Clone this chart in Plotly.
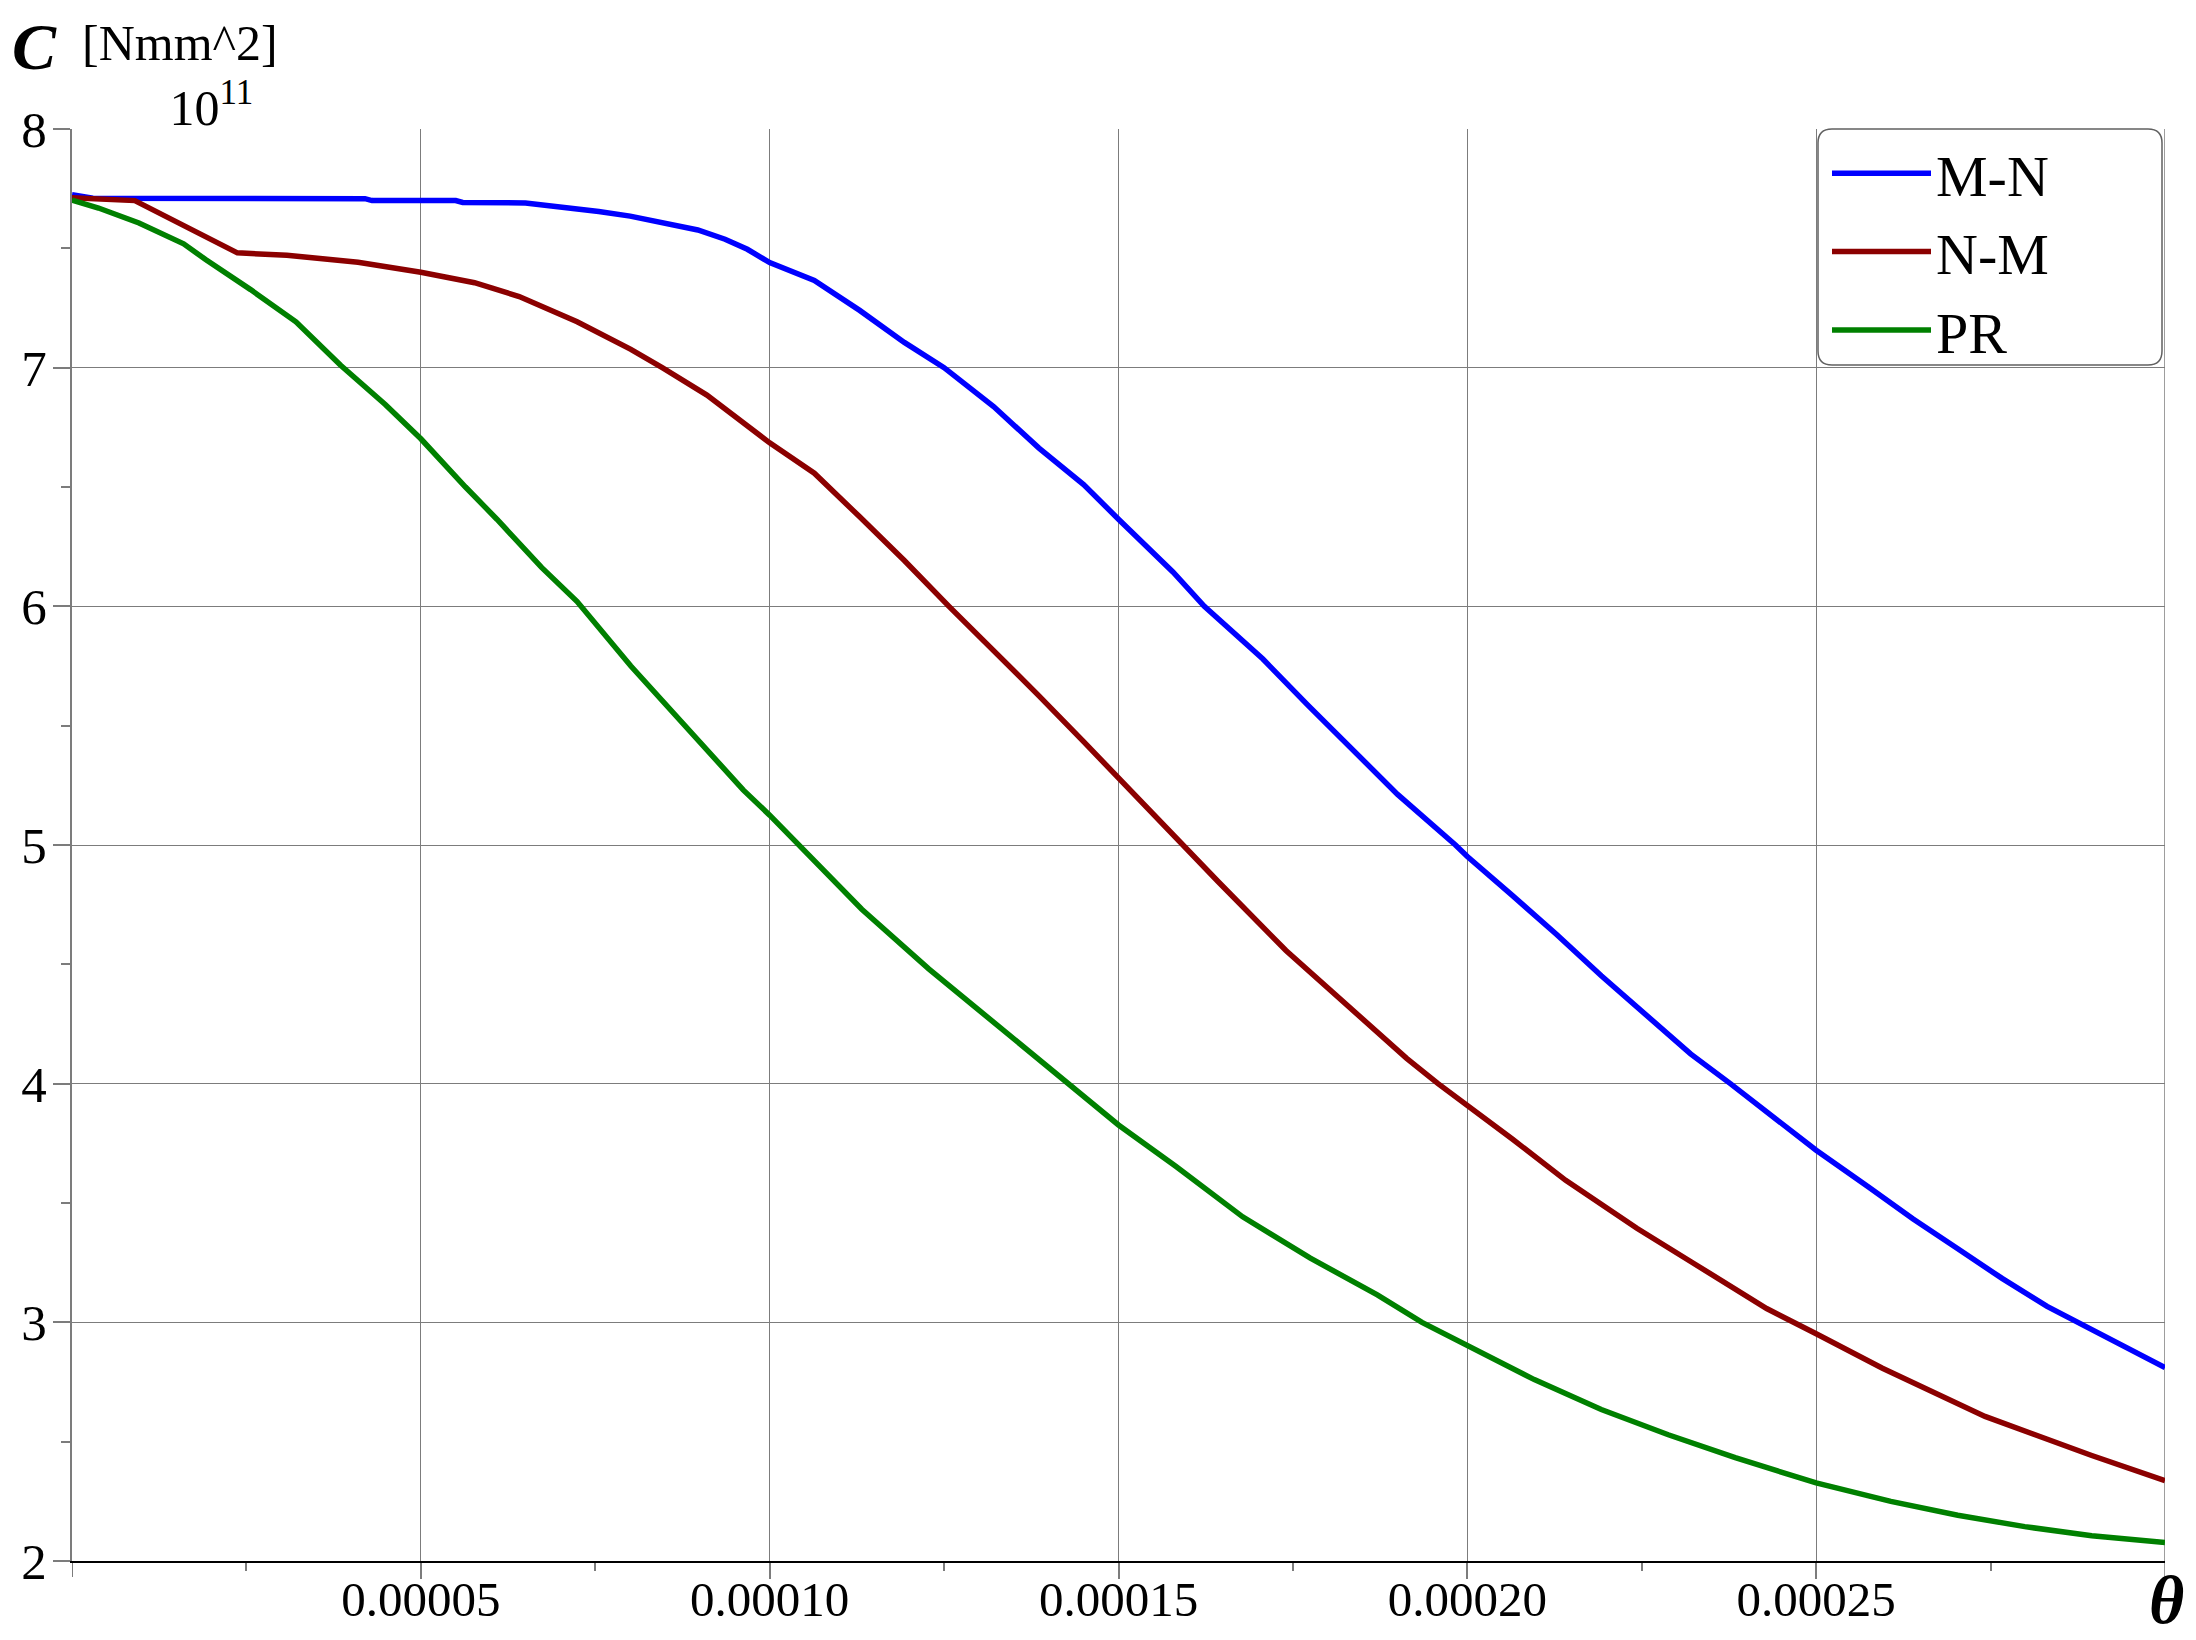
import plotly.graph_objects as go

# ---------------- data (C in units of 1e11 Nmm^2) ----------------
theta_mn = [0, 0.000003, 0.000042, 0.000043, 0.000055, 0.000056, 0.000065, 0.0000705,
            0.0000755, 0.00008, 0.0000853, 0.0000897, 0.0000936, 0.0000968, 0.0001,
            0.0001064, 0.0001129, 0.0001193, 0.000125, 0.0001321, 0.0001386, 0.000145,
            0.00015, 0.0001578, 0.0001623, 0.0001707, 0.0001771, 0.0001835, 0.00019,
            0.0001983, 0.0002, 0.0002064, 0.0002128, 0.0002192, 0.0002256, 0.000232, 0.0002377,
            0.0002448, 0.00025, 0.0002575, 0.0002639, 0.0002703, 0.0002767, 0.0002831,
            0.0002876, 0.0002927, 0.0003]
c_mn = [7.725, 7.71, 7.708, 7.70, 7.70, 7.692, 7.69, 7.673, 7.654, 7.635, 7.606, 7.577,
        7.538, 7.496, 7.44, 7.365, 7.24, 7.106, 7.0, 6.837, 6.663, 6.51, 6.365, 6.144,
        6.0, 5.779, 5.587, 5.404, 5.212, 5.0, 4.952, 4.79, 4.625, 4.452, 4.288, 4.125, 4.0,
        3.837, 3.721, 3.567, 3.433, 3.308, 3.183, 3.067, 3.0, 2.923, 2.81]

theta_nm = [0, 0.000009, 0.0000237, 0.0000308, 0.000041, 0.00005, 0.0000577, 0.0000641,
            0.0000724, 0.0000801, 0.0000846, 0.000091, 0.0001, 0.0001064, 0.0001129,
            0.0001193, 0.0001257, 0.0001321, 0.0001386, 0.000145, 0.00015, 0.0001553,
            0.0001594, 0.0001643, 0.000174, 0.0001836, 0.0001913, 0.0001958, 0.0002,
            0.0002064, 0.0002141, 0.0002243, 0.000232, 0.0002429, 0.00025, 0.0002595,
            0.0002742, 0.0002895, 0.0003]
c_nm = [7.712, 7.70, 7.481, 7.471, 7.442, 7.40, 7.356, 7.298, 7.192, 7.077, 7.0, 6.885,
        6.685, 6.558, 6.375, 6.192, 6.0, 5.817, 5.625, 5.433, 5.279, 5.115, 4.99, 4.846,
        4.558, 4.308, 4.106, 4.0, 3.91, 3.769, 3.595, 3.394, 3.255, 3.058, 2.952, 2.808,
        2.606, 2.442, 2.337]

theta_pr = [0, 0.0000038, 0.0000096, 0.000016, 0.0000192, 0.0000256, 0.0000321, 0.0000385,
            0.0000449, 0.00005, 0.0000564, 0.0000609, 0.0000673, 0.0000724, 0.0000801,
            0.0000878, 0.0000962, 0.0001, 0.0001042, 0.0001132, 0.0001228, 0.0001325,
            0.0001427, 0.00015, 0.0001582, 0.0001678, 0.0001775, 0.0001871, 0.0001935,
            0.0002, 0.0002096, 0.0002192, 0.0002288, 0.0002384, 0.00025, 0.0002607,
            0.0002703, 0.0002799, 0.0002895, 0.0003]
c_pr = [7.702, 7.669, 7.606, 7.519, 7.452, 7.327, 7.192, 7.01, 6.846, 6.702, 6.5, 6.365,
        6.163, 6.02, 5.75, 5.5, 5.231, 5.125, 5.0, 4.731, 4.481, 4.25, 4.0, 3.827, 3.654,
        3.442, 3.269, 3.115, 3.0, 2.904, 2.76, 2.635, 2.529, 2.433, 2.327, 2.25, 2.192,
        2.144, 2.106, 2.077]

series_names = ["M-N", "N-M", "PR"]
x_range = [0, 0.0003]
x_tickvals = [0.00005, 0.0001, 0.00015, 0.0002, 0.00025]
x_ticktext = ["0.00005", "0.00010", "0.00015", "0.00020", "0.00025"]
x_minor = [0.000025, 0.000075, 0.000125, 0.000175, 0.000225, 0.000275]
y_range = [2, 8]
y_tickvals = [2, 3, 4, 5, 6, 7, 8]

# ---------------- layout geometry ----------------
# the page body has an 8px margin, so the figure starts at (8, 8) in the window
OFF = 8
W, H = 2196 - OFF, 1640 - OFF
L, T = 72 - OFF, 129 - OFF
R = W - (2165 - OFF)
B = H - (1561 - OFF)
PW, PH = W - L - R, H - T - B


def px(page_x):
    return (page_x - OFF - L) / PW


def py(page_y):
    return (H - B - (page_y - OFF)) / PH


FONT = "Liberation Serif, Times New Roman, serif"
GRID = "#7c7c7c"

fig = go.Figure()
colors = ["#0000ff", "#8b0000", "#008000"]
for name, xs, ys, col in zip(series_names, [theta_mn, theta_nm, theta_pr],
                             [c_mn, c_nm, c_pr], colors):
    fig.add_trace(go.Scatter(x=xs, y=ys, mode="lines", name=name,
                             line=dict(color=col, width=5.5)))

# rounded legend frame
x0, x1, y0, y1, r = px(1818), px(2162), py(129), py(365), 14
rx, ry = r / PW, r / PH
path = (f"M {x0+rx},{y0} L {x1-rx},{y0} Q {x1},{y0} {x1},{y0-ry} "
        f"L {x1},{y1+ry} Q {x1},{y1} {x1-rx},{y1} L {x0+rx},{y1} "
        f"Q {x0},{y1} {x0},{y1+ry} L {x0},{y0-ry} Q {x0},{y0} {x0+rx},{y0} Z")
fig.add_shape(type="path", path=path, xref="paper", yref="paper",
              line=dict(color="#606060", width=1.5), fillcolor="white", layer="above")

# end ticks / border line of the x axis (at 0 and at the right end of the range)
tick_drop = -16 / PH
fig.add_shape(type="line", xref="x", yref="paper", x0=x_range[1], x1=x_range[1],
              y0=tick_drop, y1=1, line=dict(color=GRID, width=1.5), layer="below")
fig.add_shape(type="line", xref="x", yref="paper", x0=x_range[0], x1=x_range[0],
              y0=tick_drop, y1=0, line=dict(color=GRID, width=2), layer="below")

fig.update_layout(
    width=W, height=H, autosize=False,
    margin=dict(l=L, r=R, t=T, b=B, autoexpand=False),
    paper_bgcolor="white", plot_bgcolor="white",
    font=dict(family=FONT, size=49, color="black"),
    showlegend=True,
    legend=dict(x=px(1827), y=py(129), xanchor="left", yanchor="top",
                bgcolor="rgba(0,0,0,0)", borderwidth=0,
                font=dict(family=FONT, size=58, color="black"),
                itemwidth=99, tracegroupgap=0),
    xaxis=dict(range=x_range, tickmode="array", tickvals=x_tickvals,
               ticktext=x_ticktext, ticks="outside", ticklen=16, tickwidth=1.5,
               tickcolor=GRID, showgrid=True, gridcolor=GRID, gridwidth=1.2,
               showline=True, linecolor="black", linewidth=2, zeroline=False,
               automargin=False, ticklabelstandoff=-22,
               tickfont=dict(family=FONT, size=49, color="black"),
               minor=dict(tickmode="array", tickvals=x_minor, ticks="outside",
                          ticklen=8, tickwidth=1.5, tickcolor=GRID, showgrid=False)),
    yaxis=dict(range=y_range, tickmode="array", tickvals=y_tickvals,
               ticks="outside", ticklen=17, tickwidth=1.5, tickcolor=GRID,
               showgrid=True, gridcolor=GRID, gridwidth=1.2,
               showline=True, linecolor=GRID, linewidth=2, zeroline=False,
               automargin=False, ticklabelstandoff=-4,
               tickfont=dict(family=FONT, size=51, color="black"),
               minor=dict(dtick=0.5, ticks="outside", ticklen=9, tickwidth=1.5,
                          tickcolor=GRID, showgrid=False)),
)

nb = "&nbsp;" * 7
annots = [
    dict(text="<b><i>C</i></b>", x=px(10), y=py(OFF), xanchor="left", yanchor="top",
         font=dict(family=FONT, size=66, color="black")),
    dict(text="[Nmm^2]<br>" + nb + "10<sup>11</sup>", x=px(80), y=py(75),
         xanchor="left", yanchor="middle", align="left",
         font=dict(family=FONT, size=50, color="black")),
    dict(text="<b><i>θ</i></b>", x=px(2166), y=py(1640), xanchor="center", yanchor="bottom",
         font=dict(family=FONT, size=68, color="black")),
]
for a in annots:
    fig.add_annotation(xref="paper", yref="paper", showarrow=False, **a)

fig.write_html("out.html")
